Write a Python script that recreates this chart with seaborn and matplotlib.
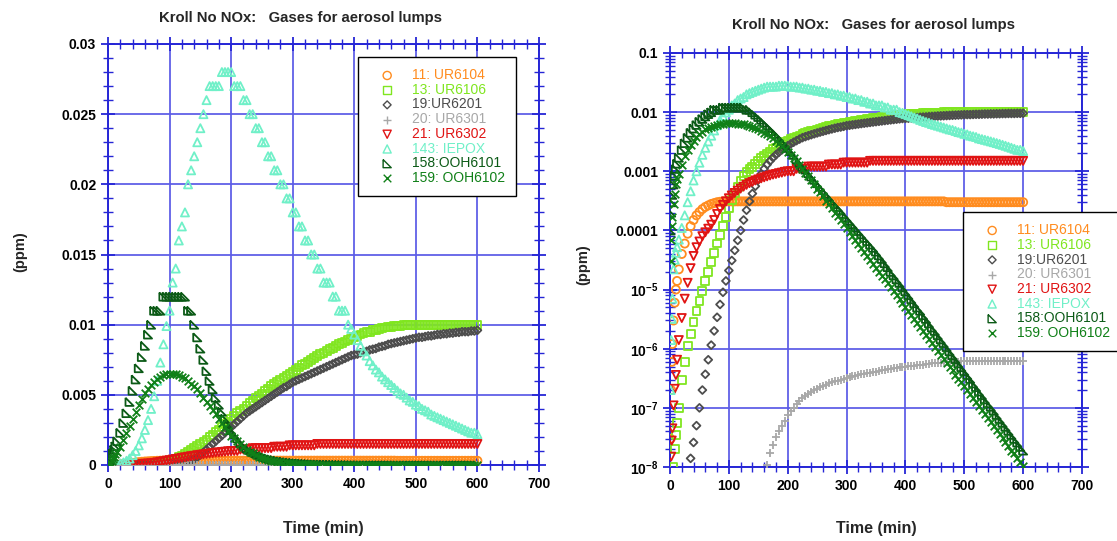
import numpy as np
import matplotlib
matplotlib.use('Agg')
import matplotlib.pyplot as plt
from matplotlib.ticker import MultipleLocator, FixedLocator, LogLocator, NullFormatter, FuncFormatter
import seaborn as sns

## estilo geral - - - - - - - - - - - - - - - - - - - - - - - - - - - -#
sns.set_style('white')
plt.rcParams['font.family'] = ['Liberation Sans', 'DejaVu Sans']
plt.rcParams['font.weight'] = 'bold'
plt.rcParams['mathtext.fontset'] = 'custom'
plt.rcParams['mathtext.rm'] = 'Liberation Sans'
plt.rcParams['mathtext.bf'] = 'Liberation Sans:bold'
plt.rcParams['mathtext.default'] = 'bf'

## dados (ppm) - - - - - - - - - - - - - - - - - - - -#
## tempos: 0,1,2,3,4,6,8,10,12,15 e depois de 5 em 5 min ate 600
time_min = [0, 1, 2, 3, 4, 6, 8, 10, 12, 15] + list(range(20, 605, 5))

ur6104 = [0, 3e-8, 2e-7, 6e-7, 1.2e-6, 3e-6, 6e-6, 1e-5, 1.4e-5, 2.2e-5,
          4.0e-5, 6.0e-5, 8.8e-5, 1.18e-4, 1.5e-4, 1.8e-4, 2.05e-4, 2.3e-4, 2.5e-4, 2.65e-4,
          2.8e-4, 2.9e-4, 3.0e-4, 3.05e-4, 3.1e-4, 3.1e-4, 3.1e-4, 3.1e-4, 3.1e-4, 3.1e-4,
          3.1e-4, 3.1e-4, 3.1e-4, 3.1e-4, 3.1e-4, 3.1e-4, 3.1e-4, 3.1e-4, 3.1e-4, 3.1e-4,
          3.1e-4, 3.1e-4, 3.1e-4, 3.1e-4, 3.1e-4, 3.1e-4, 3.1e-4, 3.1e-4, 3.1e-4, 3.1e-4,
          3.1e-4, 3.1e-4, 3.1e-4, 3.1e-4, 3.1e-4, 3.1e-4, 3.1e-4, 3.1e-4, 3.1e-4, 3.1e-4,
          3.1e-4, 3.1e-4, 3.1e-4, 3.1e-4, 3.1e-4, 3.1e-4, 3.1e-4, 3.1e-4, 3.1e-4, 3.1e-4,
          3.1e-4, 3.1e-4, 3.1e-4, 3.1e-4, 3.1e-4, 3.1e-4, 3.1e-4, 3.1e-4, 3.1e-4, 3.1e-4,
          3.1e-4, 3.1e-4, 3.1e-4, 3.1e-4, 3.1e-4, 3.1e-4, 3.1e-4, 3.1e-4, 3.1e-4, 3.1e-4,
          3.1e-4, 3.1e-4, 3.1e-4, 3.1e-4, 3.1e-4, 3.1e-4, 3.1e-4, 3.1e-4, 3.1e-4, 3.1e-4,
          3.0e-4, 3.0e-4, 3.0e-4, 3.0e-4, 3.0e-4, 3.0e-4, 3.0e-4, 3.0e-4, 3.0e-4, 3.0e-4,
          3.0e-4, 3.0e-4, 3.0e-4, 3.0e-4, 3.0e-4, 3.0e-4, 3.0e-4, 3.0e-4, 3.0e-4, 3.0e-4,
          3.0e-4, 3.0e-4, 3.0e-4, 3.0e-4, 3.0e-4, 3.0e-4, 3.0e-4]

ur6106 = [0, 2e-10, 1e-9, 2.5e-9, 5e-9, 1.0e-8, 2e-8, 3.5e-8, 5.5e-8, 1.0e-7,
          3e-7, 6e-7, 1.1e-6, 1.8e-6, 2.8e-6, 4.3e-6, 6.5e-6, 9.5e-6, 1.4e-5, 2.0e-5,
          2.9e-5, 4.2e-5, 6e-5, 8.5e-5, 1.2e-4, 1.7e-4, 2.4e-4, 3.3e-4, 4.3e-4, 5.5e-4,
          6.8e-4, 8.2e-4, 9.6e-4, 1.1e-3, 1.2e-3, 1.35e-3, 1.5e-3, 1.65e-3, 1.8e-3, 2.0e-3,
          2.15e-3, 2.35e-3, 2.5e-3, 2.7e-3, 2.9e-3, 3.1e-3, 3.3e-3, 3.5e-3, 3.7e-3, 3.85e-3,
          4.0e-3, 4.2e-3, 4.4e-3, 4.55e-3, 4.75e-3, 4.9e-3, 5.1e-3, 5.3e-3, 5.45e-3, 5.6e-3,
          5.75e-3, 5.9e-3, 6.05e-3, 6.2e-3, 6.35e-3, 6.5e-3, 6.65e-3, 6.8e-3, 6.95e-3, 7.1e-3,
          7.2e-3, 7.35e-3, 7.5e-3, 7.6e-3, 7.75e-3, 7.9e-3, 8.0e-3, 8.1e-3, 8.25e-3, 8.35e-3,
          8.5e-3, 8.6e-3, 8.7e-3, 8.8e-3, 8.9e-3, 9.0e-3, 9.1e-3, 9.2e-3, 9.3e-3, 9.4e-3,
          9.45e-3, 9.5e-3, 9.6e-3, 9.65e-3, 9.7e-3, 9.75e-3, 9.8e-3, 9.85e-3, 9.85e-3, 9.9e-3,
          9.9e-3, 9.9e-3, 0.010, 0.010, 0.010, 0.010, 0.010, 0.010, 0.010, 0.010,
          0.010, 0.010, 0.010, 0.010, 0.010, 0.010, 0.010, 0.010, 0.010, 0.010,
          0.010, 0.010, 0.010, 0.010, 0.010, 0.010, 0.010]

ur6201 = [0, 0, 0, 0, 0, 0, 0, 0, 0, 0,
          1e-9, 3e-9, 8e-9, 1.4e-8, 2.6e-8, 5e-8, 1.0e-7, 2.0e-7, 3.7e-7, 6.5e-7,
          1.15e-6, 2.0e-6, 3.4e-6, 5.6e-6, 9e-6, 1.4e-5, 2.1e-5, 3.1e-5, 4.6e-5, 6.8e-5,
          1.0e-4, 1.5e-4, 2.2e-4, 3.1e-4, 4.2e-4, 5.6e-4, 7.2e-4, 9e-4, 1.1e-3, 1.3e-3,
          1.5e-3, 1.7e-3, 1.9e-3, 2.1e-3, 2.3e-3, 2.5e-3, 2.7e-3, 2.9e-3, 3.1e-3, 3.3e-3,
          3.5e-3, 3.7e-3, 3.85e-3, 4.0e-3, 4.15e-3, 4.3e-3, 4.45e-3, 4.6e-3, 4.75e-3, 4.9e-3,
          5.05e-3, 5.2e-3, 5.35e-3, 5.5e-3, 5.6e-3, 5.75e-3, 5.9e-3, 6.0e-3, 6.1e-3, 6.2e-3,
          6.3e-3, 6.4e-3, 6.5e-3, 6.6e-3, 6.7e-3, 6.8e-3, 6.9e-3, 7.0e-3, 7.1e-3, 7.2e-3,
          7.3e-3, 7.4e-3, 7.5e-3, 7.6e-3, 7.7e-3, 7.8e-3, 7.85e-3, 7.9e-3, 8.0e-3, 8.05e-3,
          8.1e-3, 8.2e-3, 8.25e-3, 8.3e-3, 8.4e-3, 8.45e-3, 8.5e-3, 8.6e-3, 8.65e-3, 8.7e-3,
          8.75e-3, 8.8e-3, 8.85e-3, 8.9e-3, 8.95e-3, 9.0e-3, 9.05e-3, 9.1e-3, 9.1e-3, 9.15e-3,
          9.2e-3, 9.2e-3, 9.25e-3, 9.3e-3, 9.3e-3, 9.35e-3, 9.35e-3, 9.4e-3, 9.4e-3, 9.45e-3,
          9.45e-3, 9.5e-3, 9.5e-3, 9.5e-3, 9.55e-3, 9.55e-3, 9.6e-3]

ur6301 = [0, 0, 0, 0, 0, 0, 0, 0, 0, 0,
          0, 0, 0, 0, 0, 0, 0, 0, 0, 0,
          0, 0, 0, 0, 0, 0, 0, 0, 0, 0,
          0, 0, 0, 0, 0, 0, 0, 0, 0, 1.1e-8,
          1.7e-8, 2.4e-8, 3.2e-8, 4e-8, 5e-8, 6e-8, 7.5e-8, 8.8e-8, 1.0e-7, 1.15e-7,
          1.3e-7, 1.45e-7, 1.6e-7, 1.72e-7, 1.85e-7, 1.98e-7, 2.1e-7, 2.22e-7, 2.35e-7, 2.47e-7,
          2.6e-7, 2.7e-7, 2.8e-7, 2.9e-7, 3.0e-7, 3.1e-7, 3.2e-7, 3.3e-7, 3.4e-7, 3.5e-7,
          3.6e-7, 3.68e-7, 3.75e-7, 3.83e-7, 3.9e-7, 4.0e-7, 4.1e-7, 4.2e-7, 4.3e-7, 4.4e-7,
          4.5e-7, 4.6e-7, 4.7e-7, 4.8e-7, 4.9e-7, 4.95e-7, 5.0e-7, 5.1e-7, 5.15e-7, 5.2e-7,
          5.3e-7, 5.35e-7, 5.4e-7, 5.5e-7, 5.6e-7, 5.65e-7, 5.7e-7, 5.75e-7, 5.8e-7, 5.85e-7,
          5.9e-7, 5.95e-7, 6.0e-7, 6.0e-7, 6.05e-7, 6.1e-7, 6.1e-7, 6.15e-7, 6.2e-7, 6.2e-7,
          6.2e-7, 6.25e-7, 6.25e-7, 6.3e-7, 6.3e-7, 6.3e-7, 6.3e-7, 6.3e-7, 6.3e-7, 6.3e-7,
          6.3e-7, 6.3e-7, 6.3e-7, 6.3e-7, 6.3e-7, 6.3e-7, 6.3e-7]

ur6302 = [0, 6e-9, 1.5e-8, 2.8e-8, 4.5e-8, 1.1e-7, 2.1e-7, 3.6e-7, 6.5e-7, 1.4e-6,
          3.3e-6, 7e-6, 1.3e-5, 2.3e-5, 3.7e-5, 5.2e-5, 6.5e-5, 8e-5, 9.3e-5, 1.07e-4,
          1.25e-4, 1.5e-4, 1.9e-4, 2.3e-4, 2.7e-4, 3.1e-4, 3.5e-4, 3.9e-4, 4.3e-4, 4.7e-4,
          5.1e-4, 5.5e-4, 5.9e-4, 6.3e-4, 6.6e-4, 7.0e-4, 7.3e-4, 7.6e-4, 7.9e-4, 8.2e-4,
          8.5e-4, 8.8e-4, 9.0e-4, 9.3e-4, 9.5e-4, 9.8e-4, 0.0010, 0.0010, 0.0010, 0.0011,
          0.0011, 0.0011, 0.0011, 0.0012, 0.0012, 0.0012, 0.0012, 0.0012, 0.0012, 0.0012,
          0.0013, 0.0013, 0.0013, 0.0013, 0.0013, 0.0014, 0.0014, 0.0014, 0.0014, 0.0014,
          0.0014, 0.0014, 0.0014, 0.0014, 0.0015, 0.0015, 0.0015, 0.0015, 0.0015, 0.0015,
          0.0015, 0.0015, 0.0015, 0.0015, 0.0015, 0.0015, 0.0015, 0.0015, 0.0015, 0.0015,
          0.0015, 0.0015, 0.0015, 0.0015, 0.0015, 0.0015, 0.0015, 0.0015, 0.0015, 0.0015,
          0.0015, 0.0015, 0.0015, 0.0015, 0.0015, 0.0015, 0.0015, 0.0015, 0.0015, 0.0015,
          0.0015, 0.0015, 0.0015, 0.0015, 0.0015, 0.0015, 0.0015, 0.0015, 0.0015, 0.0015,
          0.0015, 0.0015, 0.0015, 0.0015, 0.0015, 0.0015, 0.0015]

iepox = [0, 2e-7, 1.4e-6, 3.2e-6, 7e-6, 2.2e-5, 3.2e-5, 4.2e-5, 5.2e-5, 7e-5,
         1.1e-4, 1.8e-4, 3.0e-4, 4.6e-4, 7.0e-4, 1.0e-3, 1.4e-3, 1.9e-3, 2.5e-3, 3.2e-3,
         0.0040, 0.0049, 0.0060, 0.0073, 0.0086, 0.0099, 0.011, 0.013, 0.014, 0.016,
         0.017, 0.018, 0.020, 0.021, 0.022, 0.023, 0.024, 0.025, 0.026, 0.027,
         0.027, 0.027, 0.027, 0.028, 0.028, 0.028, 0.028, 0.027, 0.027, 0.027,
         0.026, 0.026, 0.025, 0.025, 0.024, 0.024, 0.023, 0.023, 0.022, 0.022,
         0.021, 0.021, 0.020, 0.020, 0.019, 0.019, 0.018, 0.018, 0.017, 0.017,
         0.016, 0.016, 0.015, 0.015, 0.014, 0.014, 0.013, 0.013, 0.013, 0.012,
         0.012, 0.011, 0.011, 0.011, 0.010, 0.0097, 0.0093, 0.0089, 0.0085, 0.0081,
         0.0078, 0.0074, 0.0071, 0.0068, 0.0066, 0.0063, 0.0061, 0.0059, 0.0057, 0.0055,
         0.0053, 0.0051, 0.0050, 0.0048, 0.0046, 0.0045, 0.0043, 0.0042, 0.0040, 0.0039,
         0.0038, 0.0036, 0.0035, 0.0034, 0.0033, 0.0032, 0.0031, 0.0030, 0.0029, 0.0028,
         0.0027, 0.0026, 0.0025, 0.0024, 0.0023, 0.0023, 0.0022]

ooh6101 = [0, 1e-4, 2e-4, 3e-4, 4e-4, 6e-4, 8.5e-4, 1.1e-3, 1.35e-3, 1.7e-3,
           0.0023, 0.0030, 0.0037, 0.0045, 0.0053, 0.0061, 0.0069, 0.0077, 0.0085, 0.0093,
           0.010, 0.011, 0.011, 0.011, 0.012, 0.012, 0.012, 0.012, 0.012, 0.012,
           0.012, 0.012, 0.011, 0.011, 0.010, 0.0091, 0.0083, 0.0075, 0.0067, 0.0060,
           0.0054, 0.0048, 0.0043, 0.0038, 0.0033, 0.0029, 0.0025, 0.0022, 0.0019, 0.0016,
           1.4e-3, 1.2e-3, 1.07e-3, 9.3e-4, 8.2e-4, 7.2e-4, 6.3e-4, 5.5e-4, 4.8e-4, 4.2e-4,
           3.7e-4, 3.2e-4, 2.8e-4, 2.5e-4, 2.2e-4, 1.9e-4, 1.67e-4, 1.46e-4, 1.28e-4, 1.12e-4,
           9.8e-5, 8.6e-5, 7.5e-5, 6.6e-5, 5.8e-5, 5.1e-5, 4.4e-5, 3.8e-5, 3.3e-5, 2.8e-5,
           2.4e-5, 2.0e-5, 1.75e-5, 1.5e-5, 1.3e-5, 1.1e-5, 9.4e-6, 8.1e-6, 6.9e-6, 5.9e-6,
           5.0e-6, 4.4e-6, 3.7e-6, 3.2e-6, 2.7e-6, 2.3e-6, 2.0e-6, 1.7e-6, 1.45e-6, 1.25e-6,
           1.07e-6, 9.1e-7, 7.8e-7, 6.7e-7, 5.7e-7, 4.9e-7, 4.2e-7, 3.6e-7, 3.1e-7, 2.6e-7,
           2.25e-7, 1.9e-7, 1.65e-7, 1.4e-7, 1.2e-7, 1.05e-7, 9e-8, 7.6e-8, 6.5e-8, 5.6e-8,
           4.8e-8, 4.1e-8, 3.5e-8, 3.0e-8, 2.6e-8, 2.2e-8, 1.9e-8]

ooh6102 = [0, 3e-5, 7e-5, 1.2e-4, 1.7e-4, 2.8e-4, 4.2e-4, 6e-4, 7.5e-4, 9e-4,
           0.0013, 0.0018, 0.0023, 0.0028, 0.0033, 0.0038, 0.0043, 0.0047, 0.0051, 0.0054,
           0.0057, 0.0059, 0.0061, 0.0063, 0.0064, 0.0065, 0.0065, 0.0065, 0.0065, 0.0064,
           0.0063, 0.0062, 0.0060, 0.0058, 0.0056, 0.0054, 0.0051, 0.0048, 0.0045, 0.0042,
           0.0039, 0.0036, 0.0033, 0.0030, 0.0027, 0.0024, 0.0021, 0.0019, 0.0017, 0.0015,
           1.3e-3, 1.1e-3, 9.5e-4, 8.2e-4, 7.0e-4, 6.0e-4, 5.1e-4, 4.4e-4, 3.8e-4, 3.2e-4,
           2.8e-4, 2.4e-4, 2.0e-4, 1.75e-4, 1.5e-4, 1.28e-4, 1.1e-4, 9.4e-5, 8.1e-5, 6.9e-5,
           5.9e-5, 5.1e-5, 4.4e-5, 3.7e-5, 3.2e-5, 2.7e-5, 2.35e-5, 2.0e-5, 1.7e-5, 1.5e-5,
           1.27e-5, 1.09e-5, 9.3e-6, 8.0e-6, 6.8e-6, 5.9e-6, 5.0e-6, 4.3e-6, 3.7e-6, 3.2e-6,
           2.7e-6, 2.3e-6, 2.0e-6, 1.7e-6, 1.46e-6, 1.25e-6, 1.07e-6, 9.2e-7, 7.9e-7, 6.8e-7,
           5.8e-7, 5.0e-7, 4.3e-7, 3.6e-7, 3.1e-7, 2.7e-7, 2.3e-7, 2.0e-7, 1.7e-7, 1.45e-7,
           1.24e-7, 1.06e-7, 9.1e-8, 7.8e-8, 6.7e-8, 5.7e-8, 4.9e-8, 4.2e-8, 3.6e-8, 3.1e-8,
           2.6e-8, 2.3e-8, 1.9e-8, 1.7e-8, 1.4e-8, 1.2e-8, 1.05e-8]

nomes = ['11: UR6104', '13: UR6106', '19:UR6201', '20: UR6301',
         '21: UR6302', '143: IEPOX', '158:OOH6101', '159: OOH6102']
series = [ur6104, ur6106, ur6201, ur6301, ur6302, iepox, ooh6101, ooh6102]

## cores e marcadores
cores = ['#ff8c1f', '#80e620', '#4d4d4d', '#a8a8a8',
         '#e01414', '#70f0c8', '#0b5a16', '#108018']
tri_retangulo = [(-1, 1), (-1, -1), (1, -1), (-1, 1)]
marcadores = ['o', 's', 'D', '+', 'v', '^', tri_retangulo, 'x']
tamanhos = [34, 32, 16, 34, 34, 34, 34, 30]

azul = '#2626d6'
azul_grade = '#5c5ce6'


def desenha(ax, log):
    for nome, vals, cor, mk, tam in zip(nomes, series, cores, marcadores, tamanhos):
        y = np.array(vals, dtype=float)
        if log:
            y = np.where(y > 0, y, np.nan)
        if isinstance(mk, str) and mk in ('+', 'x'):
            sns.scatterplot(x=time_min, y=y, ax=ax, marker=mk, s=tam, color=cor,
                            linewidth=1.3, label=nome, zorder=3)
        else:
            sns.scatterplot(x=time_min, y=y, ax=ax, marker=mk, s=tam, color=cor,
                            facecolor='none', edgecolor=cor, linewidth=1.3,
                            label=nome, zorder=3)


def enfeita(ax):
    ax.set_axisbelow(True)
    ax.grid(True, which='major', color=azul_grade, linewidth=1.4, alpha=0.9)
    ax.grid(False, which='minor')
    for lado in ax.spines.values():
        lado.set_color(azul)
        lado.set_linewidth(1.4)
        lado.set_visible(True)
    ax.tick_params(which='both', direction='inout', color=azul, labelcolor='black',
                   top=True, right=True, bottom=True, left=True, labelsize=10)
    ax.tick_params(which='major', length=10, width=1.3)
    ax.tick_params(which='minor', length=7, width=1.0)
    ax.set_xlim(0, 700)
    ax.xaxis.set_major_locator(MultipleLocator(100))
    ax.xaxis.set_minor_locator(MultipleLocator(20))
    ax.xaxis.set_major_formatter(FuncFormatter(lambda v, p: '%d' % v))
    ax.set_xlabel('')
    ax.set_ylabel('')


def legenda(ax, fig, pos):
    h, l = ax.get_legend_handles_labels()
    leg = ax.legend(h, l, loc='upper left', bbox_to_anchor=pos,
                    bbox_transform=fig.transFigure, fancybox=False,
                    edgecolor='black', framealpha=1, labelcolor=cores,
                    prop={'size': 10, 'weight': 'normal'}, handlelength=2.6,
                    handletextpad=0.5, borderpad=0.8, labelspacing=0.05,
                    borderaxespad=0, scatterpoints=1)
    leg.get_frame().set_linewidth(1.0)
    for hd in leg.legend_handles:
        hd.set_linewidth(1.0)


fig = plt.figure(figsize=(11.17, 5.41), dpi=100)
W, H = 1117, 541

## painel linear
ax1 = fig.add_axes([108 / W, 1 - 465 / H, 431 / W, 421 / H])
desenha(ax1, log=False)
enfeita(ax1)
ax1.set_ylim(0, 0.03)
ax1.yaxis.set_major_locator(MultipleLocator(0.005))
ax1.yaxis.set_minor_locator(MultipleLocator(0.001))
ax1.yaxis.set_major_formatter(FuncFormatter(lambda v, p: '%g' % round(v, 4)))
legenda(ax1, fig, (358 / W, 1 - 57 / H))

## painel log
ax2 = fig.add_axes([670 / W, 1 - 467 / H, 412 / W, 414 / H])
desenha(ax2, log=True)
ax2.set_yscale('log')
enfeita(ax2)
ax2.set_ylim(1e-8, 0.1)
rotulos_log = {0.1: '0.1', 0.01: '0.01', 0.001: '0.001', 1e-4: '0.0001',
               1e-5: r'$10^{-5}$', 1e-6: r'$10^{-6}$', 1e-7: r'$10^{-7}$',
               1e-8: r'$10^{-8}$'}
ax2.yaxis.set_major_locator(FixedLocator(list(rotulos_log.keys())))
ax2.yaxis.set_major_formatter(FuncFormatter(
    lambda v, p: min(rotulos_log.items(), key=lambda kv: abs(np.log10(kv[0]) - np.log10(v)))[1]))
ax2.yaxis.set_minor_locator(LogLocator(base=10, subs=np.arange(2, 10), numticks=30))
ax2.yaxis.set_minor_formatter(NullFormatter())
legenda(ax2, fig, (963 / W, 1 - 212 / H))

## textos
titulo = 'Kroll No NOx:   Gases for aerosol lumps'
fig.text(301 / W, 1 - 18 / H, titulo, ha='center', va='center', fontsize=10.7)
fig.text(874 / W, 1 - 25 / H, titulo, ha='center', va='center', fontsize=10.7)
fig.text(323 / W, 1 - 528 / H, 'Time (min)', ha='center', va='center', fontsize=11.5)
fig.text(876 / W, 1 - 528 / H, 'Time (min)', ha='center', va='center', fontsize=11.5)
fig.text(20 / W, 1 - 252 / H, '(ppm)', ha='center', va='center', rotation=90, fontsize=10.5)
fig.text(583 / W, 1 - 265 / H, '(ppm)', ha='center', va='center', rotation=90, fontsize=10.5)

fig.savefig('out.png', dpi=100)
